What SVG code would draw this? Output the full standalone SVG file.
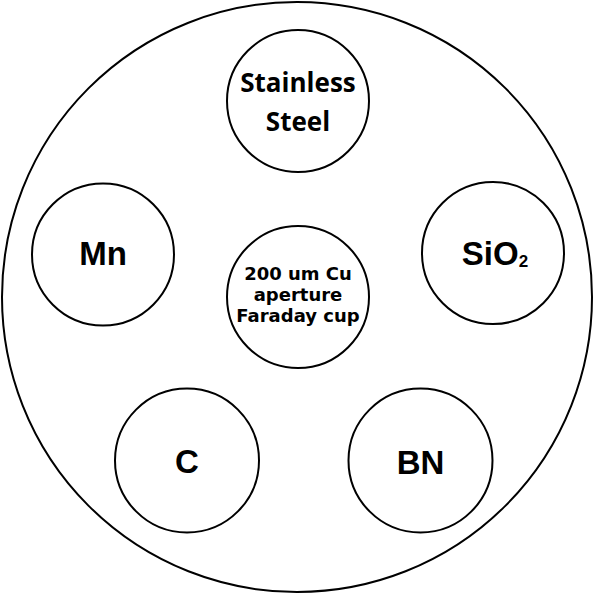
<svg xmlns="http://www.w3.org/2000/svg" width="594" height="594" viewBox="0 0 594 594">
<style>
.c{fill:#fff;stroke:#000;stroke-width:2}
.a{font-family:"Liberation Sans",Arial,sans-serif;font-weight:bold;font-size:33px;text-anchor:middle;fill:#000}
.s{font-family:"Open Sans","Noto Sans",sans-serif;font-weight:bold;font-size:26px;text-anchor:middle;fill:#000}
.v{font-family:"DejaVu Sans",Verdana,sans-serif;font-weight:bold;font-size:18px;text-anchor:middle;fill:#000}
</style>
<rect width="594" height="594" fill="#fff"/>
<g id="holder"><circle class="c" cx="297" cy="297" r="295"/></g>
<g id="connectors"></g>
<g id="stainless"><circle class="c" cx="298" cy="101" r="71"/><text class="s" x="298" y="92">Stainless</text><text class="s" x="298" y="131">Steel</text></g>
<g id="mn"><circle class="c" cx="103" cy="254.5" r="71"/><text class="a" x="103" y="265">Mn</text></g>
<g id="sio2"><circle class="c" cx="493" cy="253" r="71"/><text class="a" x="495" y="265">SiO<tspan font-size="17" dy="2">2</tspan></text></g>
<g id="faraday"><circle class="c" cx="298" cy="297" r="71"/><text class="v" x="298" y="280">200 um Cu</text><text class="v" x="298" y="301">aperture</text><text class="v" x="298" y="322">Faraday cup</text></g>
<g id="c"><circle class="c" cx="187" cy="460.5" r="72"/><text class="a" x="187" y="473">C</text></g>
<g id="bn"><circle class="c" cx="420.5" cy="460.5" r="72"/><text class="a" x="420.5" y="474">BN</text></g>
</svg>
